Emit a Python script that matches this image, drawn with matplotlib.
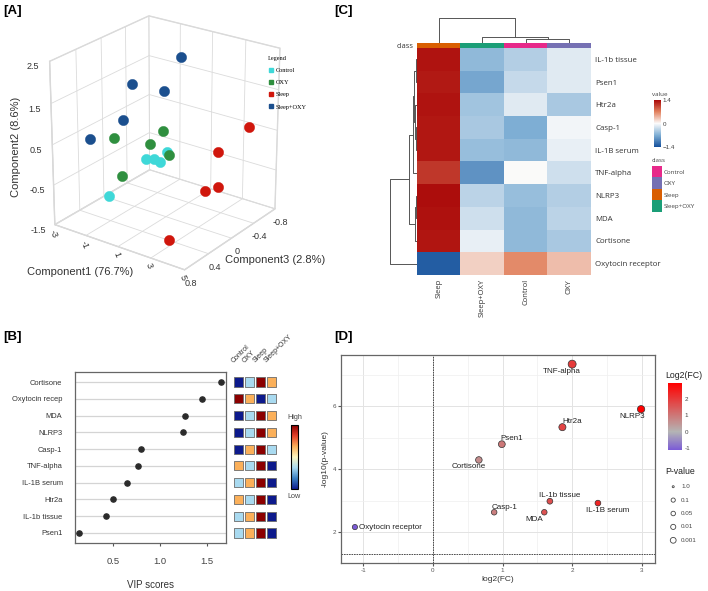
import numpy as np
import matplotlib
matplotlib.use('Agg')
import matplotlib.pyplot as plt
from matplotlib.colors import LinearSegmentedColormap, Normalize, ListedColormap
from matplotlib.cm import ScalarMappable
from matplotlib.lines import Line2D

plt.rcParams['font.family'] = ['Liberation Sans', 'DejaVu Sans']
plt.rcParams['axes.unicode_minus'] = False

# ---------------- data ----------------
# Panel A (PCA 3D scores)
group_names = ['Control', 'OXY', 'Sleep', 'Sleep+OXY']
control_c1 = [-0.2, -0.2, -0.2, -0.2, -0.2]
control_c2 = [-0.55, -0.18, -0.29, -0.44, -0.30]
control_c3 = [0.63, 0.01, -0.12, -0.22, -0.34]
oxy_c1 = [-0.6, -0.6, -0.6, -0.6, -0.6]
oxy_c2 = [0.64, 0.02, 0.17, -0.55, -0.41]
oxy_c3 = [0.43, -0.16, -0.38, -0.50, 0.30]
sleep_c1 = [4.6, 4.2, 4.2, 3.8, 3.0]
sleep_c2 = [0.85, 0.55, -0.32, -0.38, -1.35]
sleep_c3 = [-0.40, 0.02, 0.02, 0.12, 0.50]
sleepoxy_c1 = [-1.4, -1.4, -1.4, -1.4, -0.6]
sleepoxy_c2 = [0.67, 1.48, 0.71, 0.91, 1.78]
sleepoxy_c3 = [0.61, -0.08, 0.08, -0.62, -0.70]

# Panel B (VIP scores)
vip_features = ['Cortisone', 'Oxytocin recep', 'MDA', 'NLRP3', 'Casp-1',
                'TNF-alpha', 'IL-1B serum', 'Htr2a', 'IL-1b tissue', 'Psen1']
vip_scores = [1.65, 1.45, 1.26, 1.24, 0.80, 0.77, 0.65, 0.50, 0.42, 0.14]
vip_groups = ['Control', 'OXY', 'Sleep', 'Sleep+OXY']
# relative level (1 = low ... 4 = high) for each group
vip_levels = [
    [1, 2, 4, 3],
    [4, 3, 1, 2],
    [1, 2, 4, 3],
    [1, 2, 4, 3],
    [1, 3, 4, 2],
    [3, 2, 4, 1],
    [2, 3, 4, 1],
    [3, 2, 4, 1],
    [2, 3, 4, 1],
    [2, 3, 4, 1],
]

# Panel C (heatmap)
heat_rows = ['IL-1b tissue', 'Psen1', 'Htr2a', 'Casp-1', 'IL-1B serum',
             'TNF-alpha', 'NLRP3', 'MDA', 'Cortisone', 'Oxytocin receptor']
heat_cols = ['Sleep', 'Sleep+OXY', 'Control', 'OXY']
heat_sleep = [1.33, 1.30, 1.33, 1.31, 1.31, 1.12, 1.36, 1.34, 1.32, -1.30]
heat_sleepoxy = [-0.60, -0.75, -0.50, -0.45, -0.55, -0.90, -0.35, -0.25, -0.10, 0.25]
heat_control = [-0.40, -0.30, -0.15, -0.70, -0.60, 0.00, -0.55, -0.60, -0.60, 0.65]
heat_oxy = [-0.15, -0.15, -0.45, -0.05, -0.10, -0.25, -0.40, -0.35, -0.45, 0.35]
heat_col_class_colors = ['#d95f02', '#1b9e77', '#e7298a', '#7570b3']
class_legend_names = ['Control', 'OXY', 'Sleep', 'Sleep+OXY']
class_legend_colors = ['#e7298a', '#7570b3', '#d95f02', '#1b9e77']
# dendrogram merges: (a, b, height); index >= n refers to earlier merges
col_merges = [(2, 3, 3.3), (1, 4, 5.6), (0, 5, 23.0)]
row_merges = [(0, 1, 1.0), (3, 4, 1.2), (2, 11, 1.8), (10, 12, 2.5),
              (6, 7, 1.0), (14, 8, 1.6), (13, 5, 4.0), (16, 15, 7.0), (17, 9, 25.0)]

# Panel D (volcano)
volc_names = ['TNF-alpha', 'NLRP3', 'Htr2a', 'Psen1', 'Cortisone',
              'IL-1b tissue', 'IL-1B serum', 'MDA', 'Casp-1', 'Oxytocin receptor']
volc_log2fc = [2.00, 2.99, 1.86, 0.99, 0.66, 1.68, 2.37, 1.60, 0.88, -1.12]
volc_neglog10p = [7.33, 5.90, 5.33, 4.79, 4.29, 2.98, 2.92, 2.63, 2.63, 2.16]
pval_legend = ['1.0', '0.1', '0.05', '0.01', '0.001']

# ---------------- figure ----------------
W, H = 708, 591
fig = plt.figure(figsize=(W / 100, H / 100), dpi=100)


def px_axes(l, t, r, b, **kw):
    return fig.add_axes([l / W, 1 - b / H, (r - l) / W, (b - t) / H], **kw)


# ---------- Panel A ----------
ax3 = px_axes(-8, -6, 332, 289, projection='3d')
pca_colors = ['#3fd8d8', '#2f8f3f', '#d0160c', '#1b4f8e']
sets = [(control_c1, control_c2, control_c3), (oxy_c1, oxy_c2, oxy_c3),
        (sleep_c1, sleep_c2, sleep_c3), (sleepoxy_c1, sleepoxy_c2, sleepoxy_c3)]
for (c1, c2, c3), col in zip(sets, pca_colors):
    ax3.scatter(c3, c1, c2, s=55, color=col, edgecolors=col, linewidths=0.3,
                depthshade=False, alpha=1)
ax3.set_xlim(-0.8, 0.8)
ax3.set_ylim(-3, 5)
ax3.set_zlim(-1.5, 2.5)
ax3.set_xticks([-0.8, -0.4, 0, 0.4, 0.8])
ax3.set_xticklabels(['-0.8', '-0.4', '0', '0.4', '0.8'])
ax3.set_yticks([-3, -1, 1, 3, 5])
ax3.set_zticks([-1.5, -0.5, 0.5, 1.5, 2.5])
ax3.view_init(elev=24, azim=36)
ax3.set_box_aspect((1, 1, 1.1), zoom=0.95)
for axis in (ax3.xaxis, ax3.yaxis, ax3.zaxis):
    axis.set_pane_color((1, 1, 1, 1))
    axis.pane.set_edgecolor((0.85, 0.85, 0.85, 1))
    axis._axinfo['grid']['color'] = (0.86, 0.86, 0.86, 1)
    axis._axinfo['grid']['linewidth'] = 0.6
    axis._axinfo['tick']['inward_factor'] = 0.0
    axis._axinfo['tick']['outward_factor'] = 0.0
    axis.line.set_color((0.85, 0.85, 0.85, 1))
ax3.tick_params(labelsize=6.5, colors='#333333', pad=0)
ax3.xaxis.set_tick_params(pad=-3)
ax3.yaxis.set_tick_params(pad=-6)
for lab in ax3.get_yticklabels():
    lab.set_rotation(-70)
fig.text(80 / W, 1 - 272 / H, 'Component1 (76.7%)', fontsize=8, ha='center', va='center', color='#333333')
fig.text(275 / W, 1 - 260 / H, 'Component3 (2.8%)', fontsize=8, ha='center', va='center', color='#333333')
fig.text(16 / W, 1 - 147 / H, 'Component2 (8.6%)', fontsize=8, ha='center', va='center',
         rotation=90, color='#333333')
leg_handles = [Line2D([], [], marker='s', linestyle='none', markersize=3.5,
                      markerfacecolor=c, markeredgecolor=c) for c in pca_colors]
fig.legend(leg_handles, group_names, loc='upper left', bbox_to_anchor=(262 / W, 1 - 50 / H),
           frameon=False, title='Legend', alignment='left',
           prop={'family': 'Liberation Serif', 'size': 4.5},
           title_fontproperties={'family': 'Liberation Serif', 'size': 4.5},
           handletextpad=0.3, labelspacing=1.1, handlelength=1.0)

# ---------- Panel C ----------
heat_cmap = LinearSegmentedColormap.from_list(
    'heat', [(0.0, '#15509c'), (0.25, '#7eaed4'), (0.5, '#fbfbfb'), (0.75, '#e2825f'), (1.0, '#aa0808')])
heat = np.array([heat_sleep, heat_sleepoxy, heat_control, heat_oxy]).T
axh = px_axes(417, 48, 591, 275)
axh.imshow(heat, cmap=heat_cmap, vmin=-1.4, vmax=1.4, aspect='auto', interpolation='nearest')
axh.yaxis.tick_right()
axh.set_yticks(range(len(heat_rows)))
axh.set_yticklabels(heat_rows, fontsize=5.7, family='Open Sans', color='#333333')
axh.set_xticks(range(len(heat_cols)))
axh.set_xticklabels(heat_cols, rotation=90, fontsize=5.5, family='Open Sans', color='#333333')
axh.tick_params(length=0, pad=3)
for s in axh.spines.values():
    s.set_visible(False)

axcb = px_axes(417, 43, 591, 48)
axcb.imshow(np.arange(4)[None, :], cmap=ListedColormap(heat_col_class_colors), aspect='auto')
axcb.set_axis_off()
fig.text(414 / W, 1 - 46 / H, 'class', fontsize=5.5, family='Open Sans', ha='right', va='center', color='#333333')


def draw_dendro(ax, merges, n, orient):
    pos = {i: float(i) for i in range(n)}
    hgt = {i: 0.0 for i in range(n)}
    for k, (a, b, h) in enumerate(merges):
        idx = n + k
        pa, pb, ha_, hb = pos[a], pos[b], hgt[a], hgt[b]
        if orient == 'top':
            ax.plot([pa, pa, pb, pb], [ha_, h, h, hb], color='#555555', lw=0.7)
        else:
            ax.plot([ha_, h, h, hb], [pa, pa, pb, pb], color='#555555', lw=0.7)
        pos[idx] = (pa + pb) / 2
        hgt[idx] = h
    return max(m[2] for m in merges)


axcd = px_axes(417, 18, 591, 43)
mh = draw_dendro(axcd, col_merges, 4, 'top')
axcd.set_xlim(-0.5, 3.5)
axcd.set_ylim(0, mh)
axcd.set_axis_off()

axrd = px_axes(390, 48, 417, 275)
mh = draw_dendro(axrd, row_merges, 10, 'left')
axrd.set_ylim(9.5, -0.5)
axrd.set_xlim(mh, 0)
axrd.set_axis_off()

axv = px_axes(654, 100, 661, 147)
cbv = fig.colorbar(ScalarMappable(norm=Normalize(-1.4, 1.4), cmap=heat_cmap), cax=axv)
cbv.set_ticks([-1.4, 0, 1.4])
cbv.set_ticklabels(['\u22121.4', '0', '1.4'])
cbv.ax.tick_params(labelsize=4.5, length=0, pad=1, colors='#444444')
cbv.outline.set_visible(False)
fig.text(652 / W, 1 - 95 / H, 'value', fontsize=4.5, family='Open Sans', color='#444444', va='center')
fig.text(652 / W, 1 - 160 / H, 'class', fontsize=4.5, family='Open Sans', color='#444444', va='center')
axcl = px_axes(652, 166, 662, 212)
axcl.imshow(np.arange(4)[:, None], cmap=ListedColormap(class_legend_colors), aspect='auto')
axcl.set_xticks([])
axcl.yaxis.tick_right()
axcl.set_yticks(range(4))
axcl.set_yticklabels(class_legend_names, fontsize=4.5, family='Open Sans', color='#444444')
axcl.tick_params(length=0, pad=1)
for s in axcl.spines.values():
    s.set_visible(False)

# ---------- Panel B ----------
axb = px_axes(75, 372, 226, 543)
rows = np.arange(len(vip_features))
axb.hlines(rows, 0.096, 1.70, color='#d4d4d4', lw=0.9, zorder=1)
axb.scatter(vip_scores, rows, s=14, color='#2b2b2b', zorder=3)
axb.set_xlim(0.096, 1.70)
axb.set_ylim(9.6, -0.6)
axb.set_yticks(rows)
axb.set_yticklabels(vip_features, fontsize=5.4, color='#333333')
axb.set_xticks([0.5, 1.0, 1.5])
axb.set_xticklabels(['0.5', '1.0', '1.5'], fontsize=6.8, color='#444444')
axb.tick_params(axis='y', length=0, pad=9)
axb.tick_params(axis='x', length=2, color='#555555', pad=8)
for s in axb.spines.values():
    s.set_color('#666666')
    s.set_linewidth(0.9)
axb.set_xlabel('VIP scores', fontsize=7, color='#333333', labelpad=10)

vip_cmap = LinearSegmentedColormap.from_list(
    'vip', ['#0d1a8c', '#3a7fc1', '#a9daf0', '#fdf6c0', '#fbb05a', '#e4412a', '#8b0000'])
axs = px_axes(233.5, 372, 276.5, 543)
lev = np.array(vip_levels)
gx, gy = np.meshgrid(np.arange(4), rows)
axs.scatter(gx.ravel(), gy.ravel(), c=lev.ravel(), cmap=vip_cmap, vmin=1, vmax=4,
            marker='s', s=44, edgecolors='#6b6b6b', linewidths=0.6)
axs.set_xlim(-0.5, 3.5)
axs.set_ylim(9.6, -0.6)
axs.set_axis_off()
for i, g in enumerate(vip_groups):
    axs.text(i - 0.35, -1.05, g, rotation=45, rotation_mode='anchor', ha='left', va='bottom',
             fontsize=5.0, color='#333333', clip_on=False)

axbc = px_axes(291, 425, 298, 489)
fig.colorbar(ScalarMappable(norm=Normalize(0, 1), cmap=vip_cmap), cax=axbc)
axbc.set_yticks([])
axbc.tick_params(length=0)
fig.text(294.5 / W, 1 - 421 / H, 'High', fontsize=5.2, ha='center', va='bottom', color='#444444')
fig.text(294.5 / W, 1 - 493 / H, 'Low', fontsize=5.2, ha='center', va='top', color='#444444')

# ---------- Panel D ----------
axd = px_axes(341, 355, 655, 563)
fc = np.array(volc_log2fc)
nl = np.array(volc_neglog10p)
lo, hi = fc.min(), fc.max()
mid = (0 - lo) / (hi - lo)
volc_cmap = LinearSegmentedColormap.from_list(
    'volc', [(0, '#7b5bd6'), (mid, '#b4b4b4'), (1, '#ff0000')])
diam = 2.0 + 2.2 * np.sqrt(nl)
axd.scatter(fc, nl, s=(diam * 0.72) ** 2 * 1.0, c=fc, cmap=volc_cmap, vmin=lo, vmax=hi,
            edgecolors='#333333', linewidths=0.5, zorder=3)
axd.set_xlim(-1.32, 3.19)
axd.set_ylim(1.02, 7.62)
axd.set_xticks([-1, 0, 1, 2, 3])
axd.set_yticks([2, 4, 6])
axd.set_xticks([-0.5, 0.5, 1.5, 2.5], minor=True)
axd.set_yticks([3, 5, 7], minor=True)
axd.grid(True, which='major', color='#e3e3e3', lw=0.7)
axd.grid(True, which='minor', color='#efefef', lw=0.5)
axd.set_axisbelow(True)
axd.tick_params(which='major', labelsize=4.5, labelcolor='#555555', length=2, color='#555555', pad=1.5)
axd.tick_params(which='minor', length=0)
for s in axd.spines.values():
    s.set_color('#666666')
    s.set_linewidth(0.9)
axd.axvline(0, color='#333333', lw=0.6, ls=(0, (2, 1)), zorder=2)
axd.axhline(1.3, color='#333333', lw=0.6, ls=(0, (2, 1)), zorder=2)
axd.set_xlabel('log2(FC)', fontsize=6, color='#333333', labelpad=2)
axd.set_ylabel('-log10(p-value)', fontsize=6, color='#333333', labelpad=3)
label_offsets = [(-10, 7), (-9, 7), (10, -6), (10, -6), (-10, 7),
                 (10, -6), (10, 7), (-10, 7), (10, -5), (4, 0)]
for name, x, y, (dx, dy) in zip(volc_names, fc, nl, label_offsets):
    ha = 'left' if name == 'Oxytocin receptor' else 'center'
    axd.annotate(name, (x, y), xytext=(dx * 0.72, -dy * 0.72), textcoords='offset points',
                 ha=ha, va='center', fontsize=5.8, color='#222222', zorder=4)

axdc = px_axes(668, 383, 682, 450)
cbd = fig.colorbar(ScalarMappable(norm=Normalize(lo, hi), cmap=volc_cmap), cax=axdc)
cbd.set_ticks([-1, 0, 1, 2])
cbd.ax.tick_params(labelsize=4.5, length=0, pad=2, colors='#444444')
cbd.outline.set_visible(False)
fig.text(665 / W, 1 - 375 / H, 'Log2(FC)', fontsize=6.3, color='#222222', va='center')
fig.text(665 / W, 1 - 472 / H, 'P-value', fontsize=6.3, color='#222222', va='center')
axpl = px_axes(668, 480, 708, 547)
pl_vals = np.array([float(v) for v in pval_legend])
pl_q = -np.log10(pl_vals)
pl_d = 2.0 + 2.2 * np.sqrt(pl_q)
axpl.scatter(np.zeros(len(pl_vals)), np.arange(len(pl_vals)), s=(pl_d * 0.72) ** 2,
             facecolors='none', edgecolors='#444444', linewidths=0.6)
for i, t in enumerate(pval_legend):
    axpl.text(0.9, i, t, fontsize=4.5, va='center', color='#444444')
axpl.set_xlim(-0.6, 4)
axpl.set_ylim(4.5, -0.5)
axpl.set_axis_off()

# panel labels
for txt, x, y in [('[A]', 3, 11), ('[C]', 334, 11), ('[B]', 3, 337), ('[D]', 334, 337)]:
    fig.text(x / W, 1 - y / H, txt, fontsize=9.5, fontweight='bold', va='center')

fig.savefig('out.png', dpi=100)
